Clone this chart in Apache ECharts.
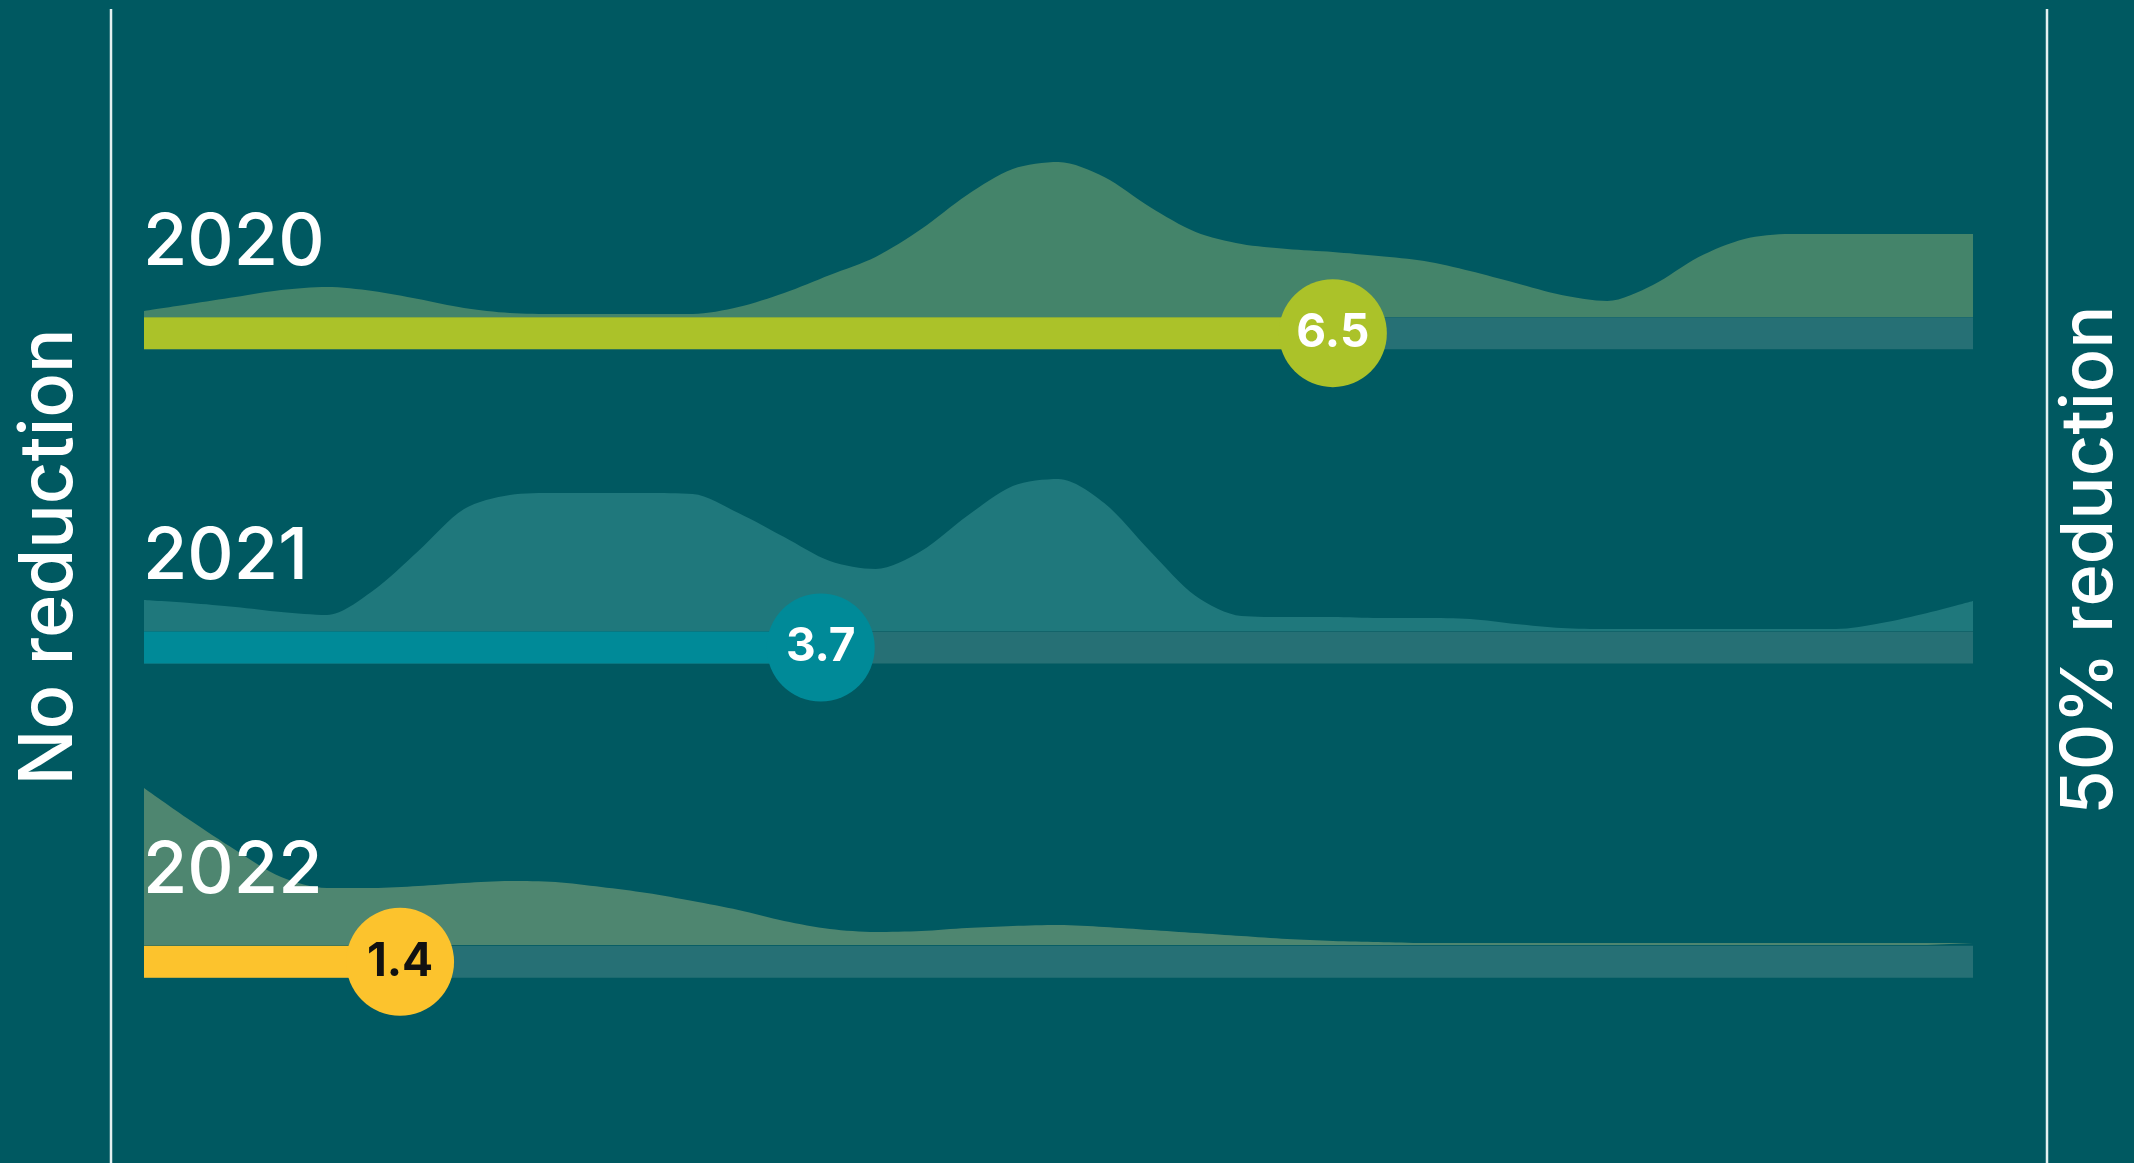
<!DOCTYPE html>
<html>
<head>
<meta charset="utf-8">
<title>Reduction progress</title>
<script src="https://cdn.jsdelivr.net/npm/echarts@6/dist/echarts.min.js"></script>
<style>
  html, body { margin: 0; padding: 0; background: #005961; }
  #chart { width: 2134px; height: 1163px; }
</style>
</head>
<body>
<div id="chart"></div>
<script>
// years, top to bottom
const years = ['2020', '2021', '2022']
// progress values on a 0-10 scale
const values = [6.5, 3.7, 1.4]

// distribution shapes above each bar, read every 0.25 on the 0-10 scale
const steps = [0, 0.25, 0.5, 0.75, 1, 1.25, 1.5, 1.75, 2, 2.25, 2.5, 2.75, 3, 3.25, 3.5, 3.75, 4, 4.25, 4.5, 4.75,
  5, 5.25, 5.5, 5.75, 6, 6.25, 6.5, 6.75, 7, 7.25, 7.5, 7.75, 8, 8.25, 8.5, 8.75, 9, 9.25, 9.5, 9.75, 10]
const dist2020 = [6, 13, 20, 27, 30, 26, 18, 9, 4, 3, 3, 3, 3, 10, 24, 42, 60, 88, 122, 148,
  155, 140, 110, 85, 73, 68, 65, 61, 56, 46, 34, 22, 16, 32, 60, 78, 83, 83, 83, 83, 83]
const dist2021 = [31, 28, 24, 19, 16, 40, 80, 122, 136, 138, 138, 138, 137, 118, 94, 70, 62, 80, 115, 145,
  152, 128, 80, 35, 15, 14, 14, 13, 13, 12, 7, 3, 2, 2, 2, 2, 2, 2, 8, 18, 30]
const dist2022 = [157, 125, 95, 68, 57, 57, 59, 62, 64, 63, 58, 52, 44, 35, 24, 16, 13, 14, 17, 19,
  20, 18, 15, 12, 9, 6, 4, 3, 2, 2, 2, 2, 2, 2, 2, 2, 2, 2, 2, 2, 2]
const dists = [dist2020, dist2021, dist2022]

const barColors = ['#abc229', '#008a98', '#fcc32d']
const areaColors = ['#44846a', '#1f787c', '#4e8670']
const labelColors = ['#ffffff', '#ffffff', '#111111']
const trackColor = '#267075'
const font = 'Inter, "Open Sans", sans-serif'

// top edge of each track in px (area grids sit right on it)
const trackTops = [317, 631, 945]

const chart = echarts.init(document.getElementById('chart'))

const grids = trackTops.map(t => ({ left: 144, right: 161, top: t - 200, height: 200 }))
grids.push({ left: 144, right: 161, top: 176, bottom: 44 })

const xAxes = grids.map((g, i) => ({ type: 'value', gridIndex: i, min: 0, max: 10, show: false }))
const yAxes = trackTops.map((t, i) => ({ type: 'value', gridIndex: i, min: 0, max: 200, show: false }))
yAxes.push({
  type: 'category',
  gridIndex: 3,
  data: years,
  inverse: true,
  z: 10,
  axisLine: { show: false },
  axisTick: { show: false },
  splitLine: { show: false },
  axisLabel: {
    inside: true,
    margin: -1,
    color: '#ffffff',
    fontFamily: font,
    fontWeight: 500,
    fontSize: 72,
    lineHeight: 72,
    verticalAlign: 'bottom',
    padding: [0, 0, 54, 0]
  }
})

const areaSeries = dists.map((d, i) => ({
  type: 'line',
  xAxisIndex: i,
  yAxisIndex: i,
  data: steps.map((s, j) => [s, d[j]]),
  smooth: 0.3,
  symbol: 'none',
  silent: true,
  lineStyle: { width: 0 },
  areaStyle: { color: areaColors[i], opacity: 1 }
}))

const option = {
  backgroundColor: '#005961',
  animation: false,
  grid: grids,
  xAxis: xAxes,
  yAxis: yAxes,
  series: [
    ...areaSeries,
    {
      type: 'bar',
      xAxisIndex: 3,
      yAxisIndex: 3,
      barWidth: 32,
      showBackground: true,
      backgroundStyle: { color: trackColor },
      data: values.map((v, i) => ({ value: v, itemStyle: { color: barColors[i] } }))
    },
    {
      type: 'scatter',
      xAxisIndex: 3,
      yAxisIndex: 3,
      symbolSize: 108,
      z: 5,
      data: values.map((v, i) => ({
        value: [v, i],
        itemStyle: { color: barColors[i], opacity: 1 },
        label: { color: labelColors[i] }
      })),
      label: {
        show: true,
        position: 'inside',
        fontFamily: font,
        fontWeight: 'bold',
        fontSize: 46,
        formatter: p => p.value[0].toFixed(1)
      }
    }
  ],
  graphic: [
    { type: 'line', shape: { x1: 111, y1: 9, x2: 111, y2: 1163 }, style: { stroke: '#e4f1f1', lineWidth: 2.5 } },
    { type: 'line', shape: { x1: 2047, y1: 9, x2: 2047, y2: 1163 }, style: { stroke: '#e4f1f1', lineWidth: 2.5 } },
    {
      type: 'text', x: 50, y: 557, rotation: Math.PI / 2,
      style: { text: 'No reduction', fill: '#ffffff', font: '500 74px ' + font, textAlign: 'center', textVerticalAlign: 'middle' }
    },
    {
      type: 'text', x: 2090, y: 560, rotation: Math.PI / 2,
      style: { text: '50% reduction', fill: '#ffffff', font: '500 72px ' + font, textAlign: 'center', textVerticalAlign: 'middle' }
    }
  ]
}

chart.setOption(option)
window.addEventListener('resize', chart.resize)
</script>
</body>
</html>
